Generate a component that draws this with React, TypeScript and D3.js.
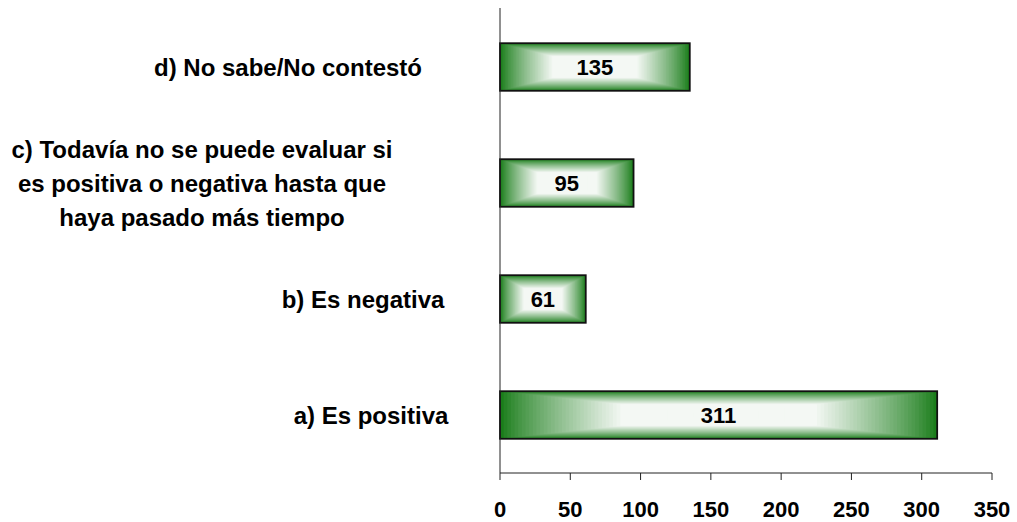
import React from "react";
import * as d3 from "d3";

const categories: string[][] = [
  ["a) Es positiva"],
  ["b) Es negativa"],
  ["c) Todavía no se puede evaluar si", "es positiva o negativa hasta que", "haya pasado más tiempo"],
  ["d) No sabe/No contestó"],
];
const values: number[] = [311, 61, 95, 135];
const tickValues: number[] = [0, 50, 100, 150, 200, 250, 300, 350];

// layout only (horizontal centre of each category label)
const labelCenterX: number[] = [371, 363, 202, 288];

const W = 1017;
const H = 522;
const GREEN = "#1a7d1a";
const WHITE = "#f4f8f4";
const FONT = "'Liberation Sans', Arial, sans-serif";

export default function App() {
  const keys = categories.map((c) => c.join(" "));
  const x = d3.scaleLinear().domain([0, 350]).range([500, 992]);
  const y = d3
    .scaleBand<string>()
    .domain([...keys].reverse())
    .range([9, 473])
    .paddingInner(0.59)
    .paddingOuter(0.295);

  const N = 60;
  const colorAt = (t: number) => {
    const r = Math.min(1, t / 0.55);
    return d3.interpolateRgb(GREEN, WHITE)(Math.pow(r, 0.85));
  };

  return (
    <svg
      width={W}
      height={H}
      style={{ position: "absolute", left: 0, top: 0, background: "#fff" }}
      fontFamily={FONT}
    >
      {/* bars */}
      {keys.map((k, i) => {
        const bx = x(0);
        const by = y(k)!;
        const bw = x(values[i]) - x(0);
        const bh = y.bandwidth();
        const cx = bx + bw / 2;
        const cy = by + bh / 2;
        return (
          <g key={k}>
            {d3.range(N).map((j) => {
              const t = j / N;
              return (
                <rect
                  key={j}
                  x={bx + (t * bw) / 2}
                  y={by + (t * bh) / 2}
                  width={bw * (1 - t)}
                  height={bh * (1 - t)}
                  fill={colorAt(t)}
                />
              );
            })}
            <rect x={bx} y={by} width={bw} height={bh} fill="none" stroke="#111" strokeWidth={1.8} />
            <text
              x={cx}
              y={cy + 22 * 0.37}
              textAnchor="middle"
              fontSize={22}
              fontWeight="bold"
              fill="#000"
            >
              {values[i]}
            </text>
          </g>
        );
      })}

      {/* category labels */}
      {categories.map((lines, i) => {
        const cy = y(keys[i])! + y.bandwidth() / 2;
        const lh = 34;
        const y0 = cy - ((lines.length - 1) * lh) / 2 + 24 * 0.358;
        return (
          <text
            key={keys[i]}
            x={labelCenterX[i]}
            textAnchor="middle"
            fontSize={24}
            fontWeight="bold"
            fill="#000"
          >
            {lines.map((l, j) => (
              <tspan key={j} x={labelCenterX[i]} y={y0 + j * lh}>
                {l}
              </tspan>
            ))}
          </text>
        );
      })}

      {/* axes */}
      <line x1={x(0)} x2={x(0)} y1={8} y2={473} stroke="#222" strokeWidth={1} />
      <line x1={x(0)} x2={x(350)} y1={473} y2={473} stroke="#222" strokeWidth={1} />
      {tickValues.map((t) => (
        <g key={t}>
          <line x1={x(t)} x2={x(t)} y1={473} y2={480} stroke="#222" strokeWidth={1} />
          <text
            x={x(t)}
            y={517}
            textAnchor="middle"
            fontSize={22}
            fontWeight="bold"
            fill="#000"
          >
            {t}
          </text>
        </g>
      ))}
    </svg>
  );
}
